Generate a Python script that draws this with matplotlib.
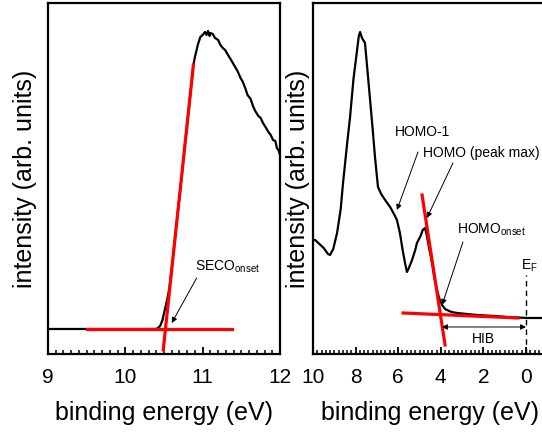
import matplotlib
matplotlib.use("Agg")
import matplotlib.pyplot as plt
from matplotlib.ticker import MultipleLocator, FixedLocator

plt.rcParams['font.family'] = ['Liberation Sans', 'DejaVu Sans']
plt.rcParams['mathtext.fontset'] = 'custom'
plt.rcParams['mathtext.rm'] = 'Liberation Sans'
plt.rcParams['mathtext.it'] = 'Liberation Sans:italic'
plt.rcParams['mathtext.bf'] = 'Liberation Sans:bold'

# ---- left panel: secondary electron cutoff ----
seco_energy = [9.0, 9.5, 10.0, 10.3, 10.40, 10.42, 10.45, 10.48, 10.51, 10.54, 10.57,
               10.60, 10.65, 10.70, 10.75, 10.80, 10.85, 10.88, 10.90, 10.94, 10.97,
               11.00, 11.03, 11.05, 11.07, 11.09, 11.10, 11.13, 11.16, 11.20, 11.23,
               11.26, 11.29, 11.32, 11.36, 11.39, 11.42, 11.45, 11.49, 11.52, 11.55,
               11.58, 11.62, 11.65, 11.68, 11.72, 11.75, 11.78, 11.82, 11.85, 11.88,
               11.91, 11.94, 11.96, 11.98, 12.0]
seco_int = [25, 25, 25, 25, 25, 26, 28, 34, 44, 54, 66,
            86, 122, 157, 194, 230, 267, 289, 297, 310, 317,
            319, 322, 319, 323, 318, 321, 320, 316, 314, 309,
            306, 304, 300, 295, 291, 287, 283, 276, 272, 266,
            259, 255, 248, 243, 238, 236, 231, 226, 222, 219,
            214, 213, 206, 204, 199]
seco_fit_steep_x = [10.49, 10.88]
seco_fit_steep_y = [4, 289]
seco_fit_base_x = [9.5, 11.38]
seco_fit_base_y = [25, 25]

# ---- right panel: valence band ----
vb_energy = [10.0, 9.9, 9.7, 9.5, 9.3, 9.2, 9.05, 8.87, 8.7, 8.59, 8.4, 8.26, 8.1,
             7.93, 7.85, 7.79, 7.7, 7.56, 7.45, 7.32, 7.2, 7.09, 6.95, 6.8, 6.71,
             6.55, 6.38, 6.2, 6.06, 5.92, 5.8, 5.68, 5.59, 5.5, 5.35, 5.2, 5.12,
             4.95, 4.85, 4.74, 4.65, 4.55, 4.41, 4.3, 4.18, 4.05, 3.94, 3.8, 3.71,
             3.5, 3.24, 2.8, 2.3, 1.5, 0.89, 0.4, -0.05, -1.0]
vb_int = [114, 114, 110, 106, 100, 99, 105, 121, 145, 171, 210, 237, 275,
          304, 318, 322, 316, 311, 285, 254, 225, 197, 167, 160, 157,
          152, 147, 140, 134, 121, 105, 91, 82, 86, 94, 104, 111,
          118, 124, 126, 118, 106, 91, 76, 64, 54, 49, 45, 44,
          42, 41, 40, 39, 38, 37, 36.5, 36, 36]
vb_fit_steep_x = [4.88, 3.80]
vb_fit_steep_y = [159, 9]
vb_fit_base_x = [5.77, 0.38]
vb_fit_base_y = [41, 36]

fig = plt.figure(figsize=(5.42, 4.32), dpi=100)
ax1 = fig.add_axes([0.0886, 0.1806, 0.428, 0.8125])
ax2 = fig.add_axes([0.5775, 0.1806, 0.4323, 0.8125])

# left
ax1.plot(seco_energy, seco_int, color='black', lw=1.6)
ax1.plot(seco_fit_steep_x, seco_fit_steep_y, color='#ff0000', lw=2.3)
ax1.plot(seco_fit_base_x, seco_fit_base_y, color='#ff0000', lw=2.3)
ax1.set_xlim(9, 12)
ax1.xaxis.set_major_locator(FixedLocator([9, 10, 11, 12]))
ax1.xaxis.set_minor_locator(MultipleLocator(0.1))

# right
ax2.plot(vb_energy, vb_int, color='black', lw=1.6)
ax2.plot(vb_fit_steep_x, vb_fit_steep_y, color='#ff0000', lw=2.3)
ax2.plot(vb_fit_base_x, vb_fit_base_y, color='#ff0000', lw=2.3)
ax2.set_xlim(10, -1)
ax2.xaxis.set_major_locator(FixedLocator([10, 8, 6, 4, 2, 0]))
ax2.xaxis.set_minor_locator(MultipleLocator(0.2))

for ax in (ax1, ax2):
    for sp in ax.spines.values():
        sp.set_linewidth(1.6)
    ax.set_yticks([])
    ax.set_ylim(0, 351)
    ax.tick_params(axis='x', which='major', direction='in', length=5, width=1.3,
                   labelsize=15, pad=10, top=False)
    ax.tick_params(axis='x', which='minor', direction='in', length=3, width=1.1,
                   top=False, bottom=True)
    ax.set_xlabel('binding energy (eV)', fontsize=18, labelpad=10)

ax1.set_ylabel('intensity (arb. units)', fontsize=18, labelpad=8)
ax2.set_ylabel('intensity (arb. units)', fontsize=18, labelpad=2)

ax1.annotate(r'SECO$_{\mathregular{onset}}$', xy=(10.60, 31), xytext=(10.90, 87),
             fontsize=10, ha='left', va='center',
             arrowprops=dict(arrowstyle='-|>', color='black', lw=0.7, mutation_scale=8,
                             shrinkA=0, shrinkB=0, relpos=(0.05, 0.0)))

arrow_kw = dict(arrowstyle='-|>', color='black', lw=0.7, mutation_scale=8, shrinkA=0, shrinkB=0)
ax2.text(6.15, 222, 'HOMO-1', fontsize=10, ha='left', va='center')
ax2.annotate('', xy=(6.06, 144), xytext=(5.07, 202), arrowprops=arrow_kw)
ax2.text(4.84, 201, 'HOMO (peak max)', fontsize=10, ha='left', va='center', clip_on=False)
ax2.annotate('', xy=(4.65, 136), xytext=(3.43, 191), arrowprops=arrow_kw)
ax2.text(3.24, 124, r'HOMO$_{\mathregular{onset}}$', fontsize=10, ha='left', va='center')
ax2.annotate('', xy=(3.94, 49), xytext=(2.96, 112), arrowprops=arrow_kw)

ax2.plot([0, 0], [0, 79], color='black', lw=1.0, ls=(0, (4, 3)))
ax2.text(0.25, 88, r'E$_{\mathregular{F}}$', fontsize=10, ha='left', va='center')
ax2.annotate('', xy=(0.0, 27), xytext=(3.95, 27),
             arrowprops=dict(arrowstyle='<|-|>', color='black', lw=0.7, mutation_scale=8,
                             shrinkA=0, shrinkB=0))
ax2.text(2.0, 15, 'HIB', fontsize=10, ha='center', va='center')

fig.savefig('out.png', dpi=100)
